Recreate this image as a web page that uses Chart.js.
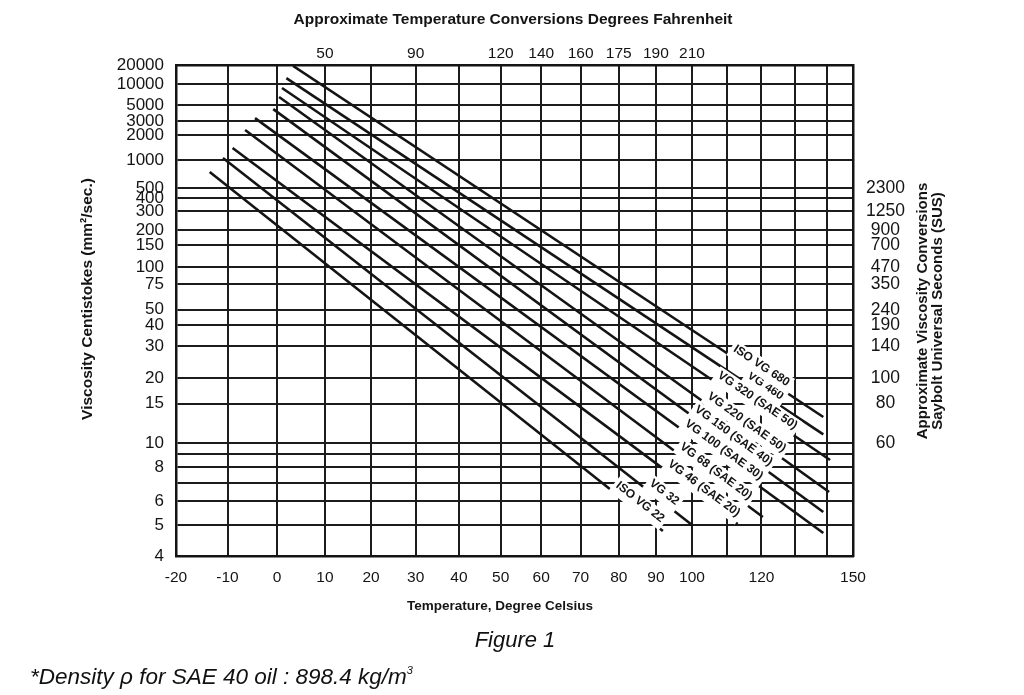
<!DOCTYPE html>
<html><head><meta charset="utf-8">
<script src="https://cdn.jsdelivr.net/npm/chart.js@4.4.1/dist/chart.umd.min.js"></script>
<style>
html,body{margin:0;padding:0;background:#fff;}
#wrap{position:relative;width:1024px;height:695px;overflow:hidden;background:#fff;}
#c{position:absolute;left:0;top:0;}
.note{position:absolute;font-family:"Liberation Sans",Arial,sans-serif;font-style:italic;color:#111;white-space:nowrap;}
</style></head><body>
<div id="wrap">
<canvas id="c" width="1024" height="695"></canvas>
<div class="note" style="left:0;width:1030px;text-align:center;top:627px;font-size:22px;">Figure 1</div>
<div class="note" style="left:30px;top:664px;font-size:22.5px;">*Density ρ for SAE 40 oil : 898.4 kg/m<span style="font-size:11px;position:relative;top:-10px;">3</span></div>
</div>
<script>
// ---------- data ----------
const grades = ['ISO VG 22','VG 32','VG 46 (SAE 20)','VG 68 (SAE 20)','VG 100 (SAE 30)','VG 150 (SAE 40)','VG 220 (SAE 50)','VG 320 (SAE 50)','VG 460','ISO VG 680'];
const startTemp = [-13.5,-10.9,-9.0,-6.5,-4.5,-0.8,0.4,1.0,1.9,3.3];
const startVisc = [740,1060,1390,2310,3300,4370,6460,8760,12400,19300];
const endTemp   = [91.9,100,113,120.4,138.7,138.7,140.5,140.8,138.7,138.7];
const endVisc   = [4.78,5.0,5.03,5.31,4.71,5.52,6.48,8.55,10.9,13.0];

const celsiusTicks  = [-20,-10,0,10,20,30,40,50,60,70,80,90,100,110,120,130,140,150];
const celsiusLabels = ['-20','-10','0','10','20','30','40','50','60','70','80','90','100','','120','','','150'];
const fahrenheitAt     = [10,30,50,60,70,80,90,100];
const fahrenheitLabels = ['50','90','120','140','160','175','190','210'];
const cstTicks  = [4,5,6,7,8,9,10,15,20,30,40,50,75,100,150,200,300,400,500,1000,2000,3000,5000,10000,20000];
const cstLabels = ['4','5','6','','8','','10','15','20','30','40','50','75','100','150','200','300','400','500','1000','2000','3000','5000','10000','20000'];
const susAt     = [10,15,20,30,40,50,75,100,150,200,300,500];
const susLabels = ['60','80','100','140','190','240','350','470','700','900','1250','2300'];

// where each grade label sits along its line (degrees Celsius)
const labelTemp = [84.3,90.8,101.9,105.3,107.6,110.4,114.2,117.4,119.8,118.6];

// ---------- chart transforms (ASTM-type chart) ----------
const tx = t => Math.log10(t + 273.15);
const vy = v => Math.log10(Math.log10(v + 0.7));
const X_MIN = tx(-20), X_MAX = tx(148);
const Y_MIN = vy(4), Y_MAX = vy(20000);

const FONT = '"Liberation Sans", Arial, sans-serif';
const INK = '#141414';

const datasets = grades.map((g, i) => ({
  label: g,
  data: [{x: tx(startTemp[i]), y: vy(startVisc[i])}, {x: tx(endTemp[i]), y: vy(endVisc[i])}],
  borderColor: INK, borderWidth: 2.6, pointRadius: 0, fill: false, tension: 0
}));

const setTicks = (vals, fn, lo, hi) => scale => {
  scale.ticks = vals.map(v => ({value: Math.min(hi, Math.max(lo, fn(v)))}));
};

const LABEL_LIFT = 9; // text sits just above its line
const lineLabels = {
  id: 'lineLabels',
  afterDatasetsDraw(chart) {
    const {ctx} = chart;
    const xs = chart.scales.x, ys = chart.scales.y;
    ctx.save();
    ctx.font = 'bold 12px ' + FONT;
    ctx.textAlign = 'center';
    ctx.textBaseline = 'middle';
    grades.forEach((name, i) => {
      const x1 = xs.getPixelForValue(tx(startTemp[i])), y1 = ys.getPixelForValue(vy(startVisc[i]));
      const x2 = xs.getPixelForValue(tx(endTemp[i])), y2 = ys.getPixelForValue(vy(endVisc[i]));
      const ang = Math.atan2(y2 - y1, x2 - x1);
      const cx = xs.getPixelForValue(tx(labelTemp[i]));
      const cy = y1 + (cx - x1) / (x2 - x1) * (y2 - y1);
      const w = ctx.measureText(name).width;
      ctx.save();
      ctx.translate(cx, cy);
      ctx.rotate(ang);
      ctx.translate(0, -LABEL_LIFT);
      ctx.fillStyle = '#fff';
      ctx.fillRect(-w / 2 - 3, -7, w + 6, 18);
      ctx.fillStyle = INK;
      ctx.fillText(name, 0, 0.5);
      ctx.restore();
    });
    ctx.restore();
  }
};

const texts = {
  id: 'texts',
  afterDraw(chart) {
    const {ctx} = chart;
    ctx.save();
    ctx.fillStyle = INK;
    ctx.textAlign = 'center';
    ctx.textBaseline = 'middle';
    ctx.font = 'bold 15.5px ' + FONT;
    ctx.fillText('Approximate Temperature Conversions Degrees Fahrenheit', 513, 20);
    ctx.font = 'bold 13.5px ' + FONT;
    ctx.fillText('Temperature, Degree Celsius', 500, 606);
    ctx.save();
    ctx.translate(88, 299);
    ctx.rotate(-Math.PI / 2);
    ctx.font = 'bold 15.5px ' + FONT;
    ctx.fillText('Viscosity Centistokes (mm²/sec.)', 0, 0);
    ctx.restore();
    ctx.save();
    ctx.translate(923, 311);
    ctx.rotate(-Math.PI / 2);
    ctx.font = 'bold 15px ' + FONT;
    ctx.fillText('Approximate Viscosity Conversions', 0, 0);
    ctx.fillText('Saybolt Universal Seconds (SUS)', 0, 15);
    ctx.restore();
    ctx.restore();
  }
};

new Chart(document.getElementById('c'), {
  type: 'line',
  data: {datasets},
  plugins: [lineLabels, texts],
  options: {
    responsive: false, animation: false, devicePixelRatio: 1, events: [],
    layout: {padding: 0},
    plugins: {legend: {display: false}, tooltip: {enabled: false}, title: {display: false}},
    scales: {
      x: {
        type: 'linear', position: 'bottom', min: X_MIN, max: X_MAX,
        afterBuildTicks: setTicks(celsiusTicks, tx, X_MIN, X_MAX),
        afterFit: s => { s.height = 139; },
        grid: {color: '#1c1c1c', lineWidth: 2, drawTicks: false},
        border: {color: INK, width: 2.5},
        ticks: {autoSkip: false, maxRotation: 0, padding: 12, color: INK,
          font: {family: FONT, size: 15.5}, callback: (v, i) => celsiusLabels[i]}
      },
      x2: {
        type: 'linear', position: 'top', min: X_MIN, max: X_MAX,
        afterBuildTicks: setTicks(fahrenheitAt, tx, X_MIN, X_MAX),
        afterFit: s => { s.height = 65; },
        grid: {display: false, drawTicks: false},
        border: {color: INK, width: 2.5},
        ticks: {autoSkip: false, maxRotation: 0, padding: 2, color: INK,
          font: {family: FONT, size: 15.5}, callback: (v, i) => fahrenheitLabels[i]}
      },
      y: {
        type: 'linear', position: 'left', min: Y_MIN, max: Y_MAX,
        afterBuildTicks: setTicks(cstTicks, vy, Y_MIN, Y_MAX),
        afterFit: s => { s.width = 176; },
        grid: {color: '#1c1c1c', lineWidth: 2, drawTicks: false},
        border: {color: INK, width: 2.5},
        ticks: {autoSkip: false, padding: 12, color: INK,
          font: {family: FONT, size: 17}, callback: (v, i) => cstLabels[i]}
      },
      y2: {
        type: 'linear', position: 'right', min: Y_MIN, max: Y_MAX,
        afterBuildTicks: setTicks(susAt, vy, Y_MIN, Y_MAX),
        afterFit: s => { s.width = 171; },
        grid: {display: false, drawTicks: false},
        border: {color: INK, width: 2.5},
        ticks: {autoSkip: false, padding: 13, crossAlign: 'center', color: INK,
          font: {family: FONT, size: 17.5}, callback: (v, i) => susLabels[i]}
      }
    }
  }
});
</script>
</body></html>
